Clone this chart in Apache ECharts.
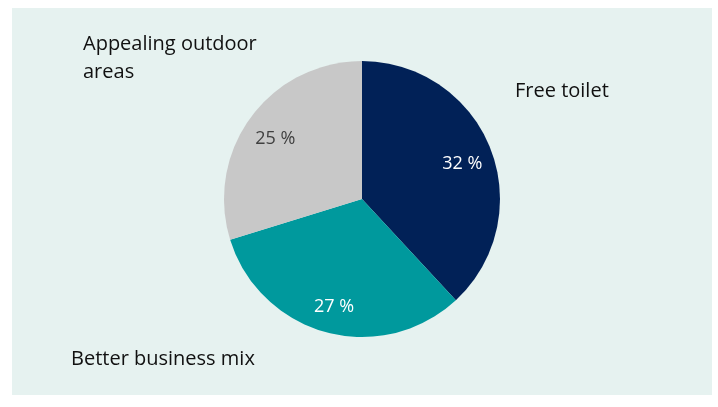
<!DOCTYPE html>
<html>
<head>
<meta charset="utf-8">
<script src="https://cdn.jsdelivr.net/npm/echarts@6/dist/echarts.min.js"></script>
<style>
  html, body { margin: 0; padding: 0; background: #ffffff; }
  #chart { width: 718px; height: 407px; }
</style>
</head>
<body>
<div id="chart"></div>
<script>
// data
const categories = ["Free toilet", "Better business mix", "Appealing outdoor areas"];
const shares = [32, 27, 25];

// styles / layout
const sliceColors = ["#012157", "#00999d", "#c8c8c8"];
const pctColors = ["#ffffff", "#ffffff", "#404040"];
const namePos = [[515, 91], [71, 359], [83, 58]];
const pieCenter = [362, 199];
const pieRadius = 138;
const pctDist = 0.78; // fraction of radius for the % labels
const pctNudgeY = 4;

const total = shares.reduce((a, b) => a + b, 0);
// mid angle of each slice, clockwise from 12 o'clock
const midAngles = [];
let acc = 0;
shares.forEach((v) => {
  midAngles.push(((acc + v / 2) / total) * 2 * Math.PI);
  acc += v;
});

const myChart = echarts.init(document.getElementById("chart"), null, { renderer: "canvas" });

const option = {
  animation: false,
  graphic: [
    {
      type: "rect",
      shape: { x: 12, y: 8, width: 700, height: 387 },
      style: { fill: "#e6f2f0" },
      z: -10,
    },
  ],
  series: [
    {
      type: "pie",
      center: pieCenter,
      radius: pieRadius,
      startAngle: 90,
      clockwise: true,
      silent: true,
      data: categories.map((c, i) => ({
        name: c,
        value: shares[i],
        itemStyle: { color: sliceColors[i] },
        label: { color: pctColors[i] },
      })),
      label: {
        show: true,
        position: "inside",
        formatter: (p) => p.value + " %",
        fontFamily: "Open Sans",
        fontSize: 18,
      },
      labelLine: { show: false },
      labelLayout: (p) => {
        const a = midAngles[p.dataIndex];
        const d = pieRadius * pctDist;
        return {
          x: pieCenter[0] + d * Math.sin(a),
          y: pieCenter[1] - d * Math.cos(a) + pctNudgeY,
          align: "center",
          verticalAlign: "middle",
        };
      },
    },
    {
      // category names only
      type: "pie",
      center: pieCenter,
      radius: pieRadius,
      startAngle: 90,
      silent: true,
      itemStyle: { color: "rgba(0,0,0,0)", borderWidth: 0 },
      data: categories.map((c, i) => ({ name: c, value: shares[i] })),
      label: {
        show: true,
        position: "inside",
        formatter: "{b}",
        color: "#111111",
        fontFamily: "Open Sans",
        fontSize: 20,
        lineHeight: 28,
        width: 185,
        overflow: "break",
      },
      labelLine: { show: false },
      labelLayout: (p) => ({
        x: namePos[p.dataIndex][0],
        y: namePos[p.dataIndex][1],
        align: "left",
        verticalAlign: "middle",
      }),
    },
  ],
};

myChart.setOption(option);
</script>
</body>
</html>
